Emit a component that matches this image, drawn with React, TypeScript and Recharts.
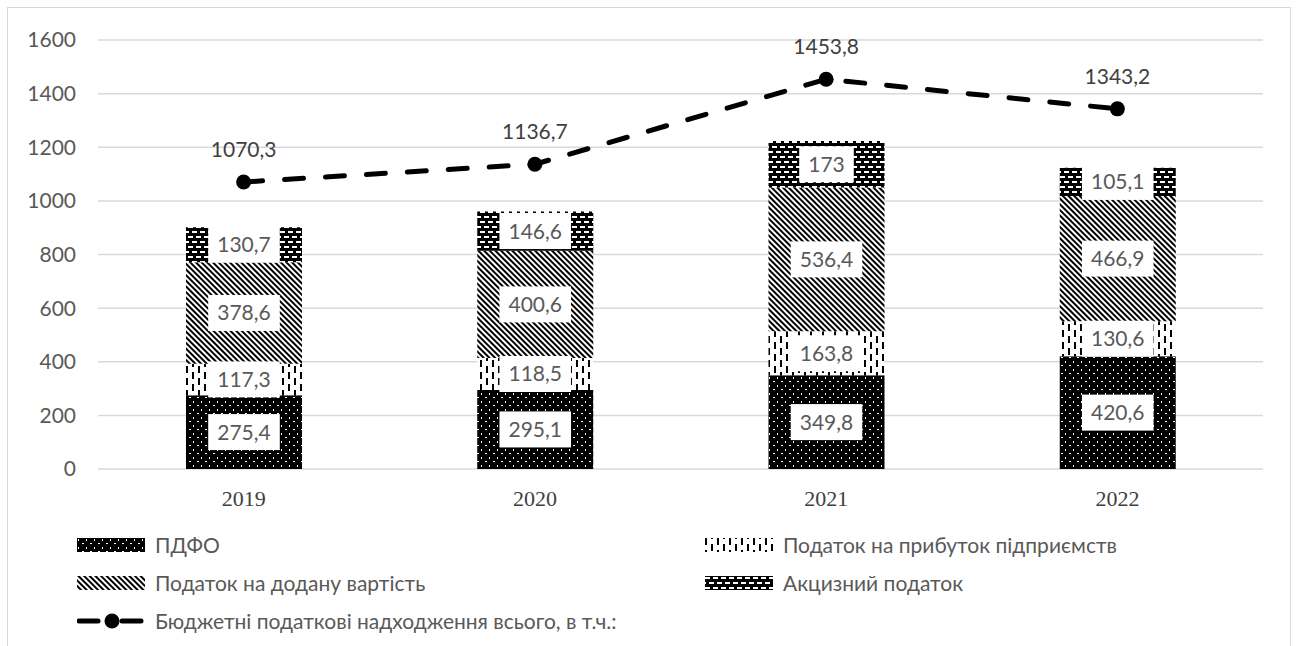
import React from 'react';
import { ComposedChart, Bar, Line, XAxis, YAxis, CartesianGrid, LabelList, Legend } from 'recharts';

const years = ['2019', '2020', '2021', '2022'];
const pdfo = [275.4, 295.1, 349.8, 420.6];
const profitTax = [117.3, 118.5, 163.8, 130.6];
const vat = [378.6, 400.6, 536.4, 466.9];
const excise = [130.7, 146.6, 173, 105.1];
const total = [1070.3, 1136.7, 1453.8, 1343.2];
const yTicks = [0, 200, 400, 600, 800, 1000, 1200, 1400, 1600];

const names = {
  pdfo: 'ПДФО',
  profitTax: 'Податок на прибуток підприємств',
  vat: 'Податок на додану вартість',
  excise: 'Акцизний податок',
  total: 'Бюджетні податкові надходження всього, в т.ч.:',
};

const data = years.map((year, i) => ({
  year,
  pdfo: pdfo[i],
  profitTax: profitTax[i],
  vat: vat[i],
  excise: excise[i],
  total: total[i],
}));

const FONT = 'Lato, "Open Sans", sans-serif';
const fmt = (v: number) => String(v).replace('.', ',');
const textW = (s: string) => {
  let w = 0;
  for (const c of s) w += c === ',' ? 4.8 : 12.2;
  return w;
};

const BarLabel = (props: any) => {
  const { x, y, width, height, value } = props;
  const s = fmt(Number(value));
  const bw = textW(s) + 18;
  const bh = 36;
  const cx = Number(x) + Number(width) / 2;
  const cy = Number(y) + Number(height) / 2;
  return (
    <g>
      <rect x={cx - bw / 2} y={cy - bh / 2} width={bw} height={bh} fill="#ffffff" />
      <text x={cx} y={cy + 7.5} textAnchor="middle" fontFamily={FONT} fontSize={21} fill="#595959">
        {s}
      </text>
    </g>
  );
};

const LineLabel = (props: any) => {
  const { x, y, value } = props;
  return (
    <text x={Number(x)} y={Number(y) - 25} textAnchor="middle" fontFamily={FONT} fontSize={21} fill="#404040">
      {fmt(Number(value))}
    </text>
  );
};

const Dot = (props: any) => {
  const { cx, cy, index } = props;
  return <circle key={`d${index}`} cx={cx} cy={cy} r={7.5} fill="#000" />;
};

const Patterns = () => (
  <svg width={0} height={0} style={{ position: 'absolute', left: 0, top: 0 }}>
    <defs>
      <pattern id="pPdfo" patternUnits="userSpaceOnUse" width={8} height={8}>
        <rect x={0} y={0} width={8} height={8} fill="#000" />
        <rect x={1} y={1} width={1} height={2} fill="#fff" />
        <rect x={5} y={5} width={2} height={1} fill="#fff" />
      </pattern>
      <pattern id="pProfit" patternUnits="userSpaceOnUse" width={12} height={12}>
        <rect x={0} y={0} width={12} height={12} fill="#fff" />
        <rect x={0} y={0} width={2} height={7} fill="#000" />
        <rect x={6} y={6} width={2} height={6} fill="#000" />
        <rect x={6} y={0} width={2} height={1} fill="#000" />
      </pattern>
      <pattern id="pVat" patternUnits="userSpaceOnUse" width={4} height={4} patternTransform="rotate(-45)">
        <rect x={0} y={0} width={4} height={4} fill="#fff" />
        <rect x={0} y={0} width={2} height={4} fill="#000" />
      </pattern>
      <pattern id="pExcise" patternUnits="userSpaceOnUse" width={8} height={10}>
        <rect x={0} y={0} width={8} height={10} fill="#000" />
        <rect x={0} y={1} width={5} height={2} fill="#fff" />
        <rect x={4} y={6} width={4} height={2} fill="#fff" />
        <rect x={0} y={6} width={1} height={2} fill="#fff" />
      </pattern>
    </defs>
  </svg>
);

const Swatch = ({ fill }: { fill: string }) => (
  <svg width={68} height={14} style={{ display: 'block' }}>
    <rect x={0} y={0} width={68} height={14} fill={fill} />
  </svg>
);

const LineSwatch = () => (
  <svg width={68} height={16} style={{ display: 'block' }}>
    <line x1={2} y1={8} x2={21} y2={8} stroke="#000" strokeWidth={5} strokeLinecap="round" />
    <line x1={45} y1={8} x2={64} y2={8} stroke="#000" strokeWidth={5} strokeLinecap="round" />
    <circle cx={35} cy={8} r={7.5} fill="#000" />
  </svg>
);

const legendItems = [
  { key: 'pdfo', col: 0, row: 0, sw: <Swatch fill="url(#pPdfo)" /> },
  { key: 'profitTax', col: 1, row: 0, sw: <Swatch fill="url(#pProfit)" /> },
  { key: 'vat', col: 0, row: 1, sw: <Swatch fill="url(#pVat)" /> },
  { key: 'excise', col: 1, row: 1, sw: <Swatch fill="url(#pExcise)" /> },
  { key: 'total', col: 0, row: 2, sw: <LineSwatch /> },
];

const LegendContent = () => (
  <div style={{ position: 'relative', width: 1299, height: 110 }}>
    {legendItems.map((it) => (
      <div
        key={it.key}
        style={{
          position: 'absolute',
          left: it.col === 0 ? 77 : 705,
          top: 15 + it.row * 38 - 14,
          height: 28,
          display: 'flex',
          alignItems: 'center',
          whiteSpace: 'nowrap',
        }}
      >
        {it.sw}
        <span style={{ marginLeft: 10, fontFamily: FONT, fontSize: 21, color: '#595959', lineHeight: '28px' }}>
          {(names as any)[it.key]}
        </span>
      </div>
    ))}
  </div>
);

export default function App() {
  return (
    <div style={{ position: 'absolute', left: 0, top: 0, width: 1299, height: 646, overflow: 'hidden', background: '#fff' }}>
      <Patterns />
      <div
        style={{
          position: 'absolute',
          left: 7,
          top: 7,
          width: 1284,
          height: 700,
          border: '1px solid #d9d9d9',
          boxSizing: 'border-box',
        }}
      />
      <div style={{ position: 'absolute', left: 0, top: 0 }}>
        <ComposedChart
          width={1299}
          height={646}
          data={data}
          margin={{ top: 40, right: 36, bottom: 147, left: 0 }}
          barCategoryGap="30%"
        >
          <CartesianGrid vertical={false} stroke="#d9d9d9" strokeWidth={1.5} />
          <XAxis
            dataKey="year"
            axisLine={false}
            tickLine={false}
            height={30}
            tickMargin={15}
            tick={{ fontFamily: '"Liberation Serif", "Times New Roman", serif', fontSize: 22, fill: '#404040' }}
          />
          <YAxis
            domain={[0, 1600]}
            ticks={yTicks}
            width={98}
            axisLine={false}
            tickLine={false}
            tickSize={6}
            tickMargin={16}
            tick={{ fontFamily: FONT, fontSize: 21, fill: '#595959' }}
          />
          <Legend
            layout="horizontal"
            verticalAlign="middle"
            align="center"
            wrapperStyle={{ top: 530, left: 0, width: 1299 }}
            content={<LegendContent />}
          />
          <Bar dataKey="pdfo" name={names.pdfo} stackId="s" fill="url(#pPdfo)" barSize={116} isAnimationActive={false}>
            <LabelList dataKey="pdfo" content={<BarLabel />} />
          </Bar>
          <Bar dataKey="profitTax" name={names.profitTax} stackId="s" fill="url(#pProfit)" barSize={116} isAnimationActive={false}>
            <LabelList dataKey="profitTax" content={<BarLabel />} />
          </Bar>
          <Bar dataKey="vat" name={names.vat} stackId="s" fill="url(#pVat)" barSize={116} isAnimationActive={false}>
            <LabelList dataKey="vat" content={<BarLabel />} />
          </Bar>
          <Bar dataKey="excise" name={names.excise} stackId="s" fill="url(#pExcise)" barSize={116} isAnimationActive={false}>
            <LabelList dataKey="excise" content={<BarLabel />} />
          </Bar>
          <Line
            dataKey="total"
            name={names.total}
            stroke="#000"
            strokeWidth={5}
            strokeDasharray="19 22"
            strokeLinecap="round"
            dot={<Dot />}
            activeDot={false}
            isAnimationActive={false}
          >
            <LabelList dataKey="total" content={<LineLabel />} />
          </Line>
        </ComposedChart>
      </div>
    </div>
  );
}
